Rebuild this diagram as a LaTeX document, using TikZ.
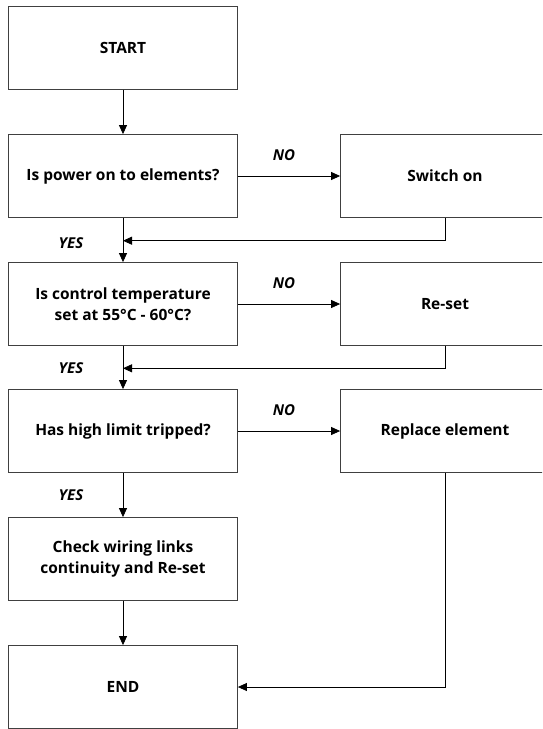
\documentclass[tikz,border=0pt]{standalone}
\usepackage{fontspec}
\setmainfont{Open Sans}
\usetikzlibrary{arrows.meta}

\begin{document}
\begin{tikzpicture}[x=1pt, y=-1pt,
  every node/.style={font=\fontsize{15.5}{21}\selectfont\bfseries},
  box/.style={draw=black!75, line width=.8pt, minimum width=229pt, minimum height=83pt, align=center, inner sep=0pt},
  sidebox/.style={box, minimum width=209pt},
  answer/.style={font=\fontsize{15}{17}\selectfont\bfseries\itshape},
  flow/.style={line width=.8pt, -{Triangle[length=9pt, width=8pt]}}]
%definitions
\def\lx{123}
\def\rx{445}

%frame
\useasboundingbox (0,0) rectangle (542,729);
\clip (0,0) rectangle (542,729);

%left column
\node[box] (start) at (\lx, 48) {START};
\node[box] (power) at (\lx, 176) {Is power on to elements?};
\node[box] (temp) at (\lx, 304) {Is control temperature\\set at 55°C - 60°C?};
\node[box] (limit) at (\lx, 431) {Has high limit tripped?};
\node[box] (wiring) at (\lx, 559) {Check wiring links\\continuity and Re-set};
\node[box] (finish) at (\lx, 687) {END};

%right column
\node[sidebox] (switch) at (\rx, 176) {Switch on};
\node[sidebox] (reset) at (\rx, 304) {Re-set};
\node[sidebox] (replace) at (\rx, 431) {Replace element};

%labels
\node[answer] (no1) at (284, 155) {NO};
\node[answer] (no2) at (284, 283) {NO};
\node[answer] (no3) at (284, 410) {NO};
\node[answer] (yes1) at (71, 243) {YES};
\node[answer] (yes2) at (71, 368) {YES};
\node[answer] (yes3) at (71, 495) {YES};

%joins
\coordinate (join1) at (\lx, 240.7);
\coordinate (join2) at (\lx, 368.3);

%arrows
\draw[flow] (start) -- (power);
\draw[flow] (power) -- (temp);
\draw[flow] (temp) -- (limit);
\draw[flow] (limit) -- (wiring);
\draw[flow] (wiring) -- (finish);

\draw[flow] (power) -- (switch);
\draw[flow] (temp) -- (reset);
\draw[flow] (limit) -- (replace);

\draw[flow] (switch.south) |- (join1);
\draw[flow] (reset.south) |- (join2);
\draw[flow] (replace.south) |- (finish.east);
\end{tikzpicture}
\end{document}
